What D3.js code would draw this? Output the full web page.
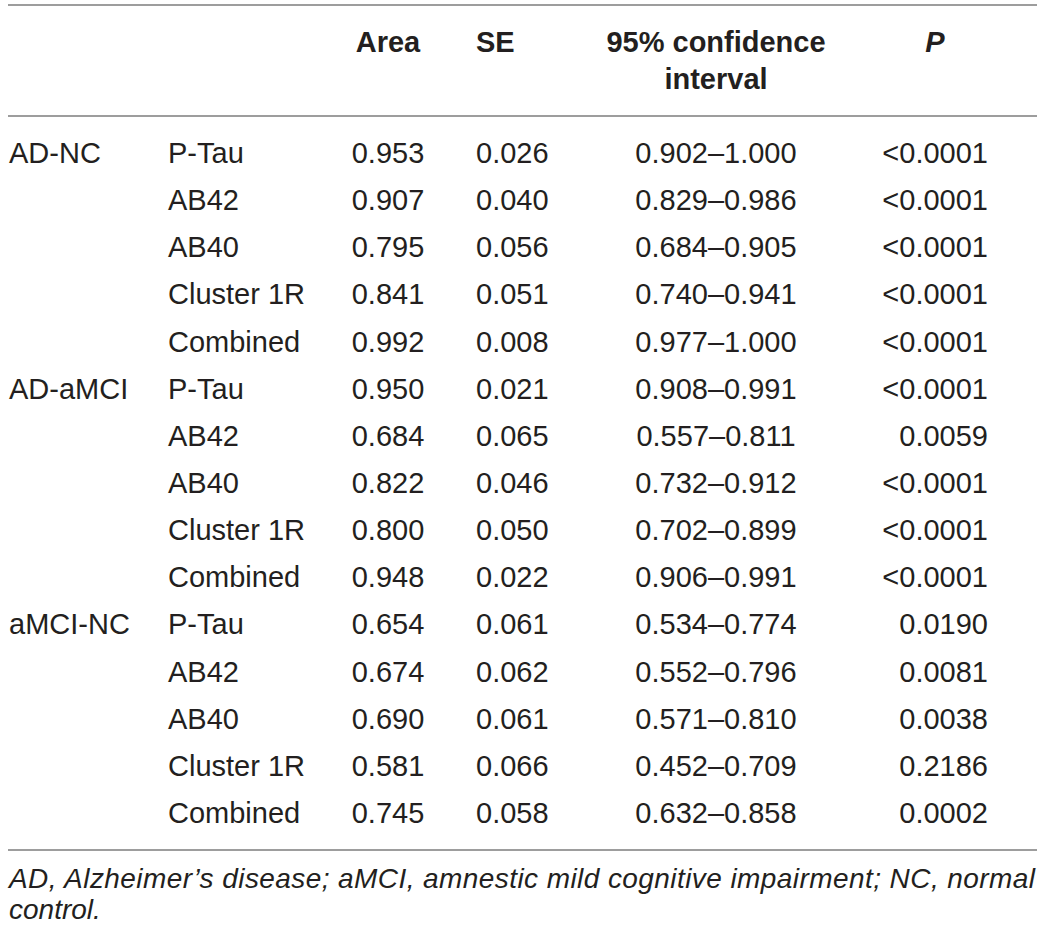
<!DOCTYPE html>
<html>
<head>
<meta charset="utf-8">
<script src="https://cdn.jsdelivr.net/npm/d3@7"></script>
<style>
  body { margin: 0; background: #fff; }
  text { font-family: "Liberation Sans", Arial, Helvetica, sans-serif; fill: #231f20; }
</style>
</head>
<body>
<script>
const w = 1042;
const h = 931;

// table data
const comparisons = ["AD-NC", "AD-aMCI", "aMCI-NC"];
const markers = ["P-Tau", "AB42", "AB40", "Cluster 1R", "Combined"];
const area = [0.953, 0.907, 0.795, 0.841, 0.992,
              0.950, 0.684, 0.822, 0.800, 0.948,
              0.654, 0.674, 0.690, 0.581, 0.745];
const se = [0.026, 0.040, 0.056, 0.051, 0.008,
            0.021, 0.065, 0.046, 0.050, 0.022,
            0.061, 0.062, 0.061, 0.066, 0.058];
const ciLow = [0.902, 0.829, 0.684, 0.740, 0.977,
               0.908, 0.557, 0.732, 0.702, 0.906,
               0.534, 0.552, 0.571, 0.452, 0.632];
const ciHigh = [1.000, 0.986, 0.905, 0.941, 1.000,
                0.991, 0.811, 0.912, 0.899, 0.991,
                0.774, 0.796, 0.810, 0.709, 0.858];
const pValues = ["<0.0001", "<0.0001", "<0.0001", "<0.0001", "<0.0001",
                 "<0.0001", "0.0059", "<0.0001", "<0.0001", "<0.0001",
                 "0.0190", "0.0081", "0.0038", "0.2186", "0.0002"];
const footnote = ["AD, Alzheimer\u2019s disease; aMCI, amnestic mild cognitive impairment; NC, normal",
                  "control."];

const f3 = d3.format(".3f");

const rows = area.map((a, i) => ({
    group: i % markers.length === 0 ? comparisons[i / markers.length] : "",
    marker: markers[i % markers.length],
    area: a,
    se: se[i],
    ci: f3(ciLow[i]) + "\u2013" + f3(ciHigh[i]),
    p: pValues[i]
}));

const svg = d3.select("body")
              .append("svg")
              .attr("width", w)
              .attr("height", h);

const yScale = d3.scalePoint()
                 .domain(d3.range(rows.length))
                 .range([163, 823]);

// column anchors
const cols = [
    {key: "group",  x: 9,   anchor: "start"},
    {key: "marker", x: 168, anchor: "start"},
    {key: "area",   x: 388, anchor: "middle", fmt: f3},
    {key: "se",     x: 476, anchor: "start",  fmt: f3},
    {key: "ci",     x: 716, anchor: "middle"},
    {key: "p",      x: 988, anchor: "end"}
];

// rules
const ruleY = [5, 116, 850];
svg.selectAll("line.rule")
    .data(ruleY)
    .enter()
    .append("line")
    .attr("class", "rule")
    .attr("x1", 8)
    .attr("x2", 1037)
    .attr("y1", d => d)
    .attr("y2", d => d)
    .attr("stroke", "#9d9d9d")
    .attr("stroke-width", 2);

// header
const header = svg.append("g")
    .attr("font-size", 29)
    .attr("font-weight", "bold");

header.append("text").attr("x", 388).attr("y", 52).attr("text-anchor", "middle").text("Area");
header.append("text").attr("x", 476).attr("y", 52).attr("text-anchor", "start").text("SE");
header.append("text").attr("x", 716).attr("y", 52).attr("text-anchor", "middle").text("95% confidence");
header.append("text").attr("x", 716).attr("y", 89).attr("text-anchor", "middle").text("interval");
header.append("text").attr("x", 935).attr("y", 52).attr("text-anchor", "middle")
    .attr("font-style", "italic").text("P");

// body
const body = svg.append("g").attr("font-size", 29);

cols.forEach(c => {
    body.selectAll("text." + c.key)
        .data(rows)
        .enter()
        .append("text")
        .attr("class", c.key)
        .attr("x", c.x)
        .attr("y", (d, i) => yScale(i))
        .attr("text-anchor", c.anchor)
        .text(d => c.fmt ? c.fmt(d[c.key]) : d[c.key]);
});

// footnote
svg.selectAll("text.note")
    .data(footnote)
    .enter()
    .append("text")
    .attr("class", "note")
    .attr("x", 9)
    .attr("y", (d, i) => 888 + i * 31)
    .attr("font-size", 28)
    .attr("font-style", "italic")
    .attr("textLength", (d, i) => i === 0 ? 1026 : null)
    .attr("lengthAdjust", "spacing")
    .text(d => d);
</script>
</body>
</html>
